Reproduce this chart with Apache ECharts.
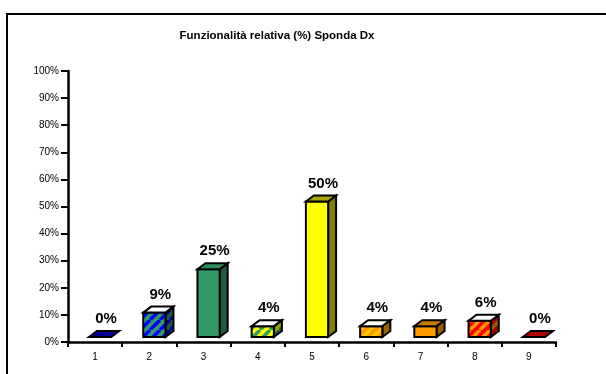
<!DOCTYPE html>
<html>
<head>
<meta charset="utf-8">
<script src="https://cdn.jsdelivr.net/npm/echarts@6/dist/echarts.min.js"></script>
<style>
  html, body { margin: 0; padding: 0; background: #fff; }
  #chart { width: 606px; height: 374px; }
</style>
</head>
<body>
<div id="chart"></div>
<script>
// Data
const categories = ['1', '2', '3', '4', '5', '6', '7', '8', '9'];
const values = [0, 9, 25, 4, 50, 4, 4, 6, 0];
const valueLabels = ['0%', '9%', '25%', '4%', '50%', '4%', '4%', '6%', '0%'];
const titleText = 'Funzionalità relativa (%) Sponda Dx';

// Diagonal stripe pattern for textured bar faces
function stripes(c1, c2) {
  const s = 10;
  const cv = document.createElement('canvas');
  cv.width = s; cv.height = s;
  const ctx = cv.getContext('2d');
  ctx.fillStyle = c1;
  ctx.fillRect(0, 0, s, s);
  ctx.strokeStyle = c2;
  ctx.lineWidth = 3.5;
  ctx.beginPath();
  for (let k = -1; k <= 1; k++) {
    ctx.moveTo(k * s, s);
    ctx.lineTo(k * s + s, 0);
  }
  ctx.stroke();
  return { image: cv, repeat: 'repeat' };
}

// Face fills per bar: front, side, top
const faces = [
  { front: '#000099', side: '#000066', top: '#000099' },
  { front: stripes('#339966', '#0000ff'), side: stripes('#1f5c3d', '#000099'), top: '#ffffff' },
  { front: '#339966', side: '#1f5c3d', top: '#2e8b57' },
  { front: stripes('#ffff00', '#339966'), side: stripes('#999900', '#1f5c3d'), top: '#ffffff' },
  { front: '#ffff00', side: '#808000', top: '#a6a600' },
  { front: stripes('#ff9900', '#ffcc00'), side: stripes('#995c00', '#998000'), top: '#ffffff' },
  { front: '#ff9900', side: '#995c00', top: '#cc7a00' },
  { front: stripes('#ff0000', '#ff9900'), side: stripes('#990000', '#995c00'), top: '#ffffff' },
  { front: '#b00000', side: '#800000', top: '#b00000' }
];

const chart = echarts.init(document.getElementById('chart'), null, { renderer: 'canvas' });

const shiftX = 5, shiftY = -5;   // bars sit in the middle of the floor depth
const dx = 8, dy = -6;           // depth of each bar

function renderBar(params, api) {
  const i = params.dataIndex;
  const v = api.value(1);
  const base = api.coord([api.value(0), 0]);
  const top = api.coord([api.value(0), v]);
  const band = api.size([1, 0])[0];
  const w = band * 0.41;
  const x0 = base[0] + shiftX - w / 2;
  const yb = base[1] + shiftY;
  const yt = top[1] + shiftY;
  const f = faces[i];
  const line = { stroke: '#000', lineWidth: 2, lineJoin: 'miter' };
  const children = [];
  if (yb - yt > 0.5) {
    children.push({
      type: 'polygon',
      shape: { points: [[x0 + w, yb], [x0 + w + dx, yb + dy], [x0 + w + dx, yt + dy], [x0 + w, yt]] },
      style: Object.assign({ fill: f.side }, line)
    });
    children.push({
      type: 'rect',
      shape: { x: x0, y: yt, width: w, height: yb - yt },
      style: Object.assign({ fill: f.front }, line)
    });
  }
  children.push({
    type: 'polygon',
    shape: { points: [[x0, yt], [x0 + dx, yt + dy], [x0 + w + dx, yt + dy], [x0 + w, yt]] },
    style: Object.assign({ fill: f.top }, line)
  });
  children.push({
    type: 'text',
    style: {
      x: x0 + w / 2 + 6,
      y: yt + dy - 12,
      text: valueLabels[i],
      fill: '#000',
      font: 'bold 15px Arial, "Liberation Sans", sans-serif',
      align: 'center',
      verticalAlign: 'middle'
    }
  });
  return { type: 'group', children: children };
}

chart.setOption({
  animation: false,
  backgroundColor: '#ffffff',
  grid: { left: 68, right: 50, top: 71, bottom: 32 },
  xAxis: {
    type: 'category',
    data: categories,
    boundaryGap: true,
    axisLine: { lineStyle: { color: '#000', width: 2.5 } },
    axisTick: { show: true, length: 5, lineStyle: { color: '#000', width: 2 } },
    axisLabel: { color: '#000', fontSize: 10, fontFamily: 'Arial, "Liberation Sans", sans-serif', margin: 10 }
  },
  yAxis: {
    type: 'value',
    min: 0,
    max: 100,
    interval: 10,
    axisLine: { show: true, lineStyle: { color: '#000', width: 2.5 } },
    axisTick: { show: true, length: 7, lineStyle: { color: '#000', width: 2 } },
    axisLabel: { color: '#000', fontSize: 10, fontFamily: 'Arial, "Liberation Sans", sans-serif', margin: 9, formatter: '{value}%' },
    splitLine: { show: false }
  },
  series: [{
    type: 'custom',
    renderItem: renderBar,
    data: values.map((v, i) => [i, v]),
    clip: false
  }],
  graphic: [
    {
      type: 'rect',
      silent: true,
      shape: { x: 7, y: 14, width: 700, height: 500 },
      style: { fill: 'none', stroke: '#000', lineWidth: 2 }
    },
    {
      type: 'text',
      silent: true,
      style: {
        x: 277, y: 36,
        text: titleText,
        fill: '#000',
        font: 'bold 11.5px Arial, "Liberation Sans", sans-serif',
        align: 'center',
        verticalAlign: 'middle'
      }
    }
  ]
});
</script>
</body>
</html>
